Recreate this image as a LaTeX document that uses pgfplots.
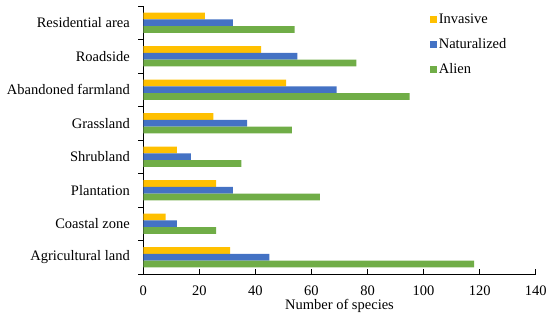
\documentclass[border=0pt]{standalone}
\usepackage{fontspec}
\setmainfont{Liberation Serif}
\usepackage{pgfplots}
\pgfplotsset{compat=1.18}
\definecolor{cinv}{HTML}{FFC000}
\definecolor{cnat}{HTML}{4472C4}
\definecolor{cal}{HTML}{70AD47}
\begin{document}
\begin{tikzpicture}
\begin{axis}[
  scale only axis, width=392.4bp, height=268bp,
  xmin=0, xmax=140, ymin=-0.5, ymax=7.5,
  xtick={0,20,...,140},
  ytick={-0.5,0.5,...,7.5},
  y tick label as interval,
  yticklabels={Agricultural land,Coastal zone,Plantation,Shrubland,Grassland,Abandoned farmland,Roadside,Residential area},
  axis x line*=bottom, axis y line*=left,
  axis line style={black, line width=0.8bp, -},
  tick style={black, line width=0.8bp},
  tick align=inside, major tick length=5bp,
  ticklabel style={font=\fontsize{14.5bp}{17bp}\selectfont},
  xticklabel style={yshift=-8bp},
  yticklabel style={xshift=-5bp},
  /pgf/number format/assume math mode=true,
  xlabel={Number of species},
  label style={font=\fontsize{14.5bp}{17bp}\selectfont},
  xlabel style={yshift=2.5bp},
  xbar, bar width=6.8bp,
  clip=false,
  legend cell align=left,
  legend style={at={(0.722,0.985)}, anchor=north west, draw=none, fill=none,
    font=\fontsize{14.5bp}{17bp}\selectfont, row sep=9.5bp},
  legend image code/.code={\fill[#1] (0bp,-3.5bp) rectangle (7bp,3.5bp);},
]
\addplot[fill=cinv, draw=none, bar shift=6.8bp] coordinates {(31,0) (8,1) (26,2) (12,3) (25,4) (51,5) (42,6) (22,7)};
\addplot[fill=cnat, draw=none, bar shift=0bp] coordinates {(45,0) (12,1) (32,2) (17,3) (37,4) (69,5) (55,6) (32,7)};
\addplot[fill=cal, draw=none, bar shift=-6.8bp] coordinates {(118,0) (26,1) (63,2) (35,3) (53,4) (95,5) (76,6) (54,7)};
\legend{Invasive,Naturalized,Alien}
\path (rel axis cs:0,0) ++(-143.3bp,-52bp) coordinate (bl);
\path (rel axis cs:1,1) ++(14.3bp,6bp) coordinate (tr);
\end{axis}
\path[use as bounding box] (bl) rectangle (tr);
\end{tikzpicture}
\end{document}
